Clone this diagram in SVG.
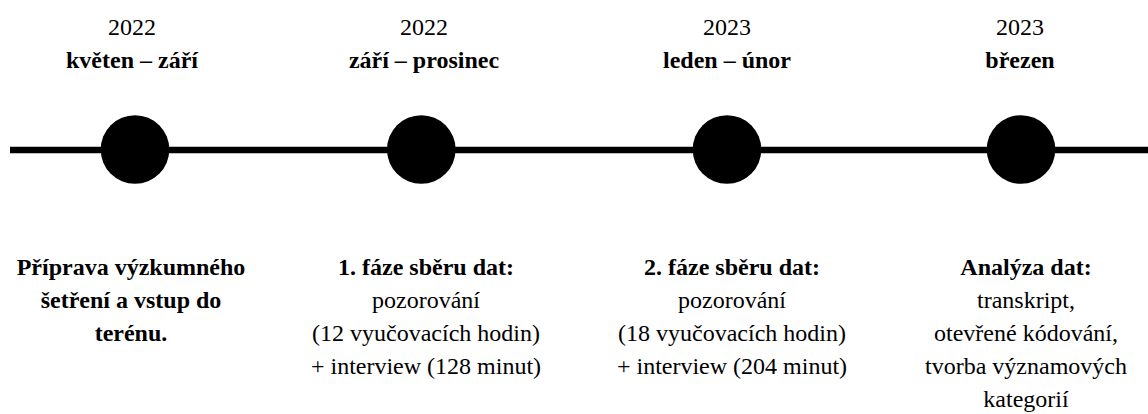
<svg xmlns="http://www.w3.org/2000/svg" width="1148" height="414" viewBox="0 0 1148 414">
<style>
text{font-family:"Liberation Serif","Times New Roman",serif;font-size:24px;fill:#000;text-anchor:middle}
.b{font-weight:bold}
.dot{fill:#000}
</style>
<rect width="1148" height="414" fill="#fff"/>
<g id="connectors">
<line x1="10" y1="150" x2="1148" y2="150" stroke="#000" stroke-width="6.5"/>
</g>
<g id="n1">
<circle class="dot" cx="135" cy="149.5" r="34.3"/>
<text x="132" y="35">2022</text>
<text class="b" x="132" y="68">květen – září</text>
<text class="b" x="131" y="275">Příprava výzkumného</text>
<text class="b" x="131" y="308">šetření a vstup do</text>
<text class="b" x="131" y="341">terénu.</text>
</g>
<g id="n2">
<circle class="dot" cx="421.3" cy="149.5" r="34.3"/>
<text x="424" y="35">2022</text>
<text class="b" x="424" y="68">září – prosinec</text>
<text class="b" x="426" y="275">1. fáze sběru dat:</text>
<text x="426" y="308">pozorování</text>
<text x="426" y="341">(12 vyučovacích hodin)</text>
<text x="426" y="374">+ interview (128 minut)</text>
</g>
<g id="n3">
<circle class="dot" cx="727" cy="149.5" r="34.3"/>
<text x="727" y="35">2023</text>
<text class="b" x="727" y="68">leden – únor</text>
<text class="b" x="732" y="275">2. fáze sběru dat:</text>
<text x="732" y="308">pozorování</text>
<text x="732" y="341">(18 vyučovacích hodin)</text>
<text x="732" y="374">+ interview (204 minut)</text>
</g>
<g id="n4">
<circle class="dot" cx="1021" cy="149.5" r="34.3"/>
<text x="1020" y="35">2023</text>
<text class="b" x="1020" y="68">březen</text>
<text class="b" x="1026" y="275">Analýza dat:</text>
<text x="1026" y="308">transkript,</text>
<text x="1026" y="341">otevřené kódování,</text>
<text x="1026" y="374">tvorba významových</text>
<text x="1026" y="407">kategorií</text>
</g>
</svg>
